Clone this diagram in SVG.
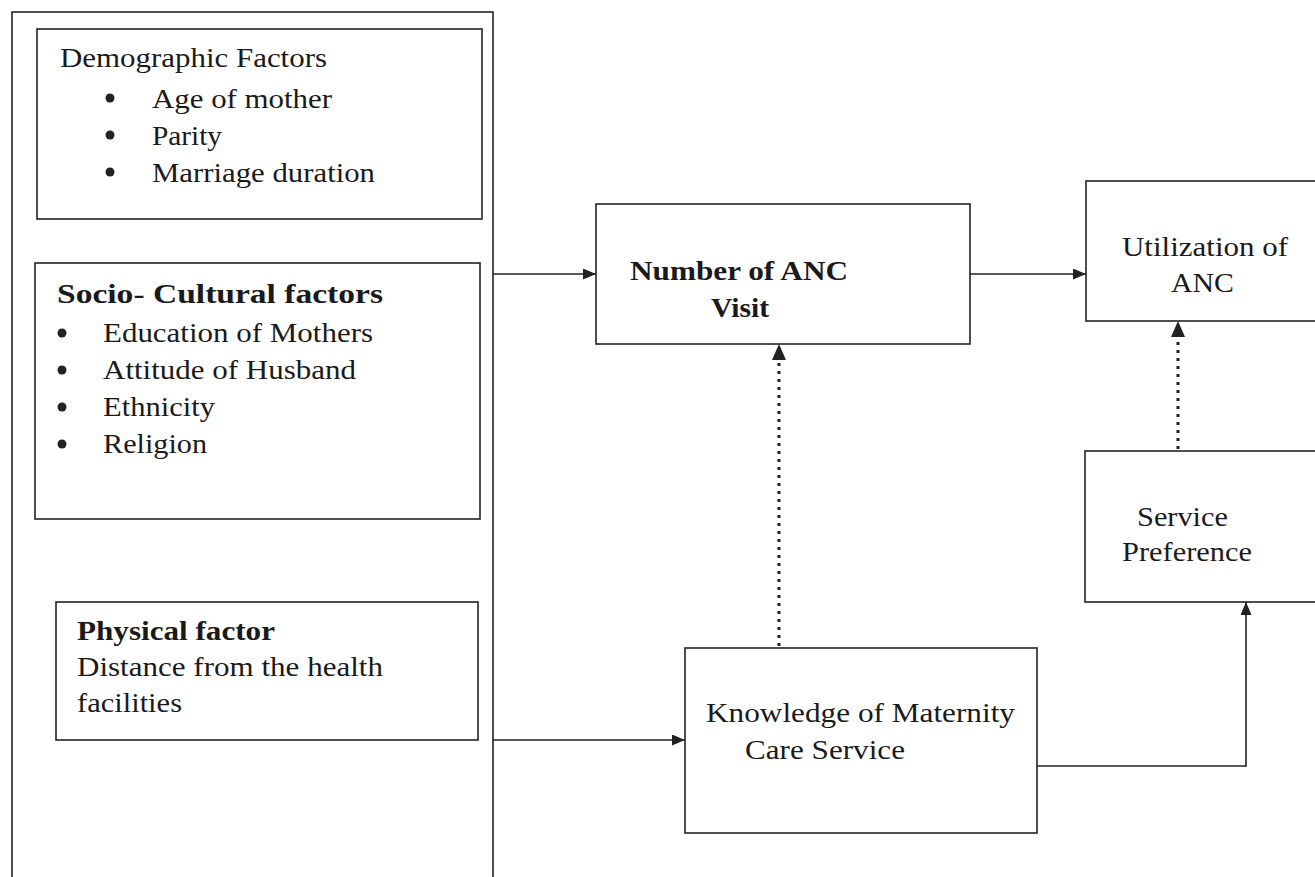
<svg xmlns="http://www.w3.org/2000/svg" width="1315" height="877" viewBox="0 0 1315 877">
<style>
.box{fill:none;stroke:#222;stroke-width:1.6}
.t{font-family:'Times New Roman','Liberation Serif',Times,serif;font-size:28px;fill:#1a1a1a}
.b{font-weight:bold}
.bul{fill:#222}
.ln{fill:none;stroke:#222;stroke-width:1.6}
.dot{fill:none;stroke:#222;stroke-width:3;stroke-dasharray:3 5}
</style>
<defs>
<marker id="ah" viewBox="0 0 13 11" refX="13" refY="5.5" markerWidth="13" markerHeight="11" markerUnits="userSpaceOnUse" orient="auto">
<path d="M0,0 L13,5.5 L0,11 z" fill="#222"/>
</marker>
</defs>
<rect width="1315" height="877" fill="#fff"/>
<g id="outer"><rect class="box" x="12" y="12" width="481" height="880"/></g>
<g id="demographic">
<rect class="box" x="37" y="29" width="445" height="190"/>
<text class="t" x="60" y="67" textLength="267" lengthAdjust="spacingAndGlyphs">Demographic Factors</text>
<circle class="bul" cx="110" cy="98" r="4.5"/>
<text class="t" x="152" y="108" textLength="180" lengthAdjust="spacingAndGlyphs">Age of mother</text>
<circle class="bul" cx="110" cy="135" r="4.5"/>
<text class="t" x="152" y="145" textLength="70" lengthAdjust="spacingAndGlyphs">Parity</text>
<circle class="bul" cx="110" cy="172" r="4.5"/>
<text class="t" x="152" y="182" textLength="223" lengthAdjust="spacingAndGlyphs">Marriage duration</text>
</g>
<g id="sociocultural">
<rect class="box" x="35" y="263" width="445" height="256"/>
<text class="t b" x="57" y="303" textLength="326" lengthAdjust="spacingAndGlyphs">Socio- Cultural factors</text>
<circle class="bul" cx="62" cy="333" r="4.5"/>
<text class="t" x="103" y="342" textLength="270" lengthAdjust="spacingAndGlyphs">Education of Mothers</text>
<circle class="bul" cx="62" cy="370" r="4.5"/>
<text class="t" x="103" y="379" textLength="253" lengthAdjust="spacingAndGlyphs">Attitude of Husband</text>
<circle class="bul" cx="62" cy="407" r="4.5"/>
<text class="t" x="103" y="416" textLength="112" lengthAdjust="spacingAndGlyphs">Ethnicity</text>
<circle class="bul" cx="62" cy="444" r="4.5"/>
<text class="t" x="103" y="453" textLength="104" lengthAdjust="spacingAndGlyphs">Religion</text>
</g>
<g id="physical">
<rect class="box" x="56" y="602" width="422" height="138"/>
<text class="t b" x="77" y="640" textLength="198" lengthAdjust="spacingAndGlyphs">Physical factor</text>
<text class="t" x="77" y="676" textLength="306" lengthAdjust="spacingAndGlyphs">Distance from the health</text>
<text class="t" x="77" y="712" textLength="105" lengthAdjust="spacingAndGlyphs">facilities</text>
</g>
<g id="anc-visit">
<rect class="box" x="596" y="204" width="374" height="140"/>
<text class="t b" x="630" y="280" textLength="218" lengthAdjust="spacingAndGlyphs">Number of ANC</text>
<text class="t b" x="711" y="317" textLength="58" lengthAdjust="spacingAndGlyphs">Visit</text>
</g>
<g id="utilization">
<rect class="box" x="1086" y="181" width="240" height="140"/>
<text class="t" x="1122" y="256" textLength="166" lengthAdjust="spacingAndGlyphs">Utilization of</text>
<text class="t" x="1171" y="292" textLength="63" lengthAdjust="spacingAndGlyphs">ANC</text>
</g>
<g id="service-preference">
<rect class="box" x="1085" y="451" width="240" height="151"/>
<text class="t" x="1137" y="526" textLength="91" lengthAdjust="spacingAndGlyphs">Service</text>
<text class="t" x="1122" y="561" textLength="130" lengthAdjust="spacingAndGlyphs">Preference</text>
</g>
<g id="knowledge">
<rect class="box" x="685" y="648" width="352" height="185"/>
<text class="t" x="706" y="722" textLength="309" lengthAdjust="spacingAndGlyphs">Knowledge of Maternity</text>
<text class="t" x="745" y="759" textLength="160" lengthAdjust="spacingAndGlyphs">Care Service</text>
</g>
<g id="connectors">
<path class="ln" d="M493,274 H596" marker-end="url(#ah)"/>
<path class="ln" d="M970,274 H1086" marker-end="url(#ah)"/>
<path class="ln" d="M493,740 H685" marker-end="url(#ah)"/>
<path class="ln" d="M1037,766 H1246 V602" marker-end="url(#ah)"/>
<path class="dot" d="M779,646 V360"/>
<path d="M772,360 L779,344 L786,360 z" fill="#222"/>
<path class="dot" d="M1178,449 V337"/>
<path d="M1171,337 L1178,321 L1185,337 z" fill="#222"/>
</g>
</svg>
